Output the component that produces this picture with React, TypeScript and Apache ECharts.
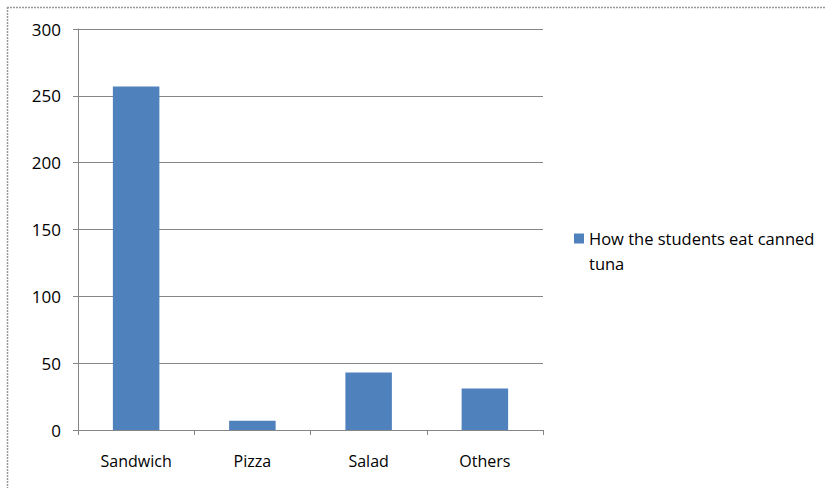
import React, { useEffect, useRef } from "react";
import * as echarts from "echarts";

const categories = ["Sandwich", "Pizza", "Salad", "Others"];
const seriesName = "How the students eat canned tuna";
const legendLines = ["How the students eat canned", "tuna"];
const values = [257, 7, 43, 31];
const yTicks = { min: 0, max: 300, interval: 50 };

const FONT = "Open Sans";

export default function App() {
  const ref = useRef<HTMLDivElement>(null);
  useEffect(() => {
    const chart = echarts.init(ref.current!, null, { renderer: "svg" });
    chart.setOption({
      animation: false,
      backgroundColor: "#ffffff",
      textStyle: { fontFamily: FONT },
      grid: { left: 78, right: 283, top: 29, bottom: 58 },
      legend: {
        orient: "vertical",
        left: 574,
        top: 201,
        padding: 0,
        itemWidth: 10,
        itemHeight: 10,
        itemGap: 5,
        icon: "rect",
        formatter: () => "\n" + legendLines.join("\n"),
        textStyle: {
          fontFamily: FONT,
          fontSize: 16.5,
          color: "#000000",
          lineHeight: 25,
        },
        data: [seriesName],
      },
      xAxis: {
        type: "category",
        data: categories,
        axisLine: { lineStyle: { color: "#868686" } },
        axisTick: { show: true, length: 5, lineStyle: { color: "#868686" } },
        axisLabel: { fontFamily: FONT, fontSize: 16, color: "#000000", margin: 23 },
      },
      yAxis: {
        type: "value",
        min: yTicks.min,
        max: yTicks.max,
        interval: yTicks.interval,
        axisLine: { show: true, lineStyle: { color: "#868686" } },
        axisTick: { show: true, length: 5, lineStyle: { color: "#868686" } },
        splitLine: { lineStyle: { color: "#868686" } },
        axisLabel: { fontFamily: FONT, fontSize: 17, color: "#000000", margin: 17 },
      },
      series: [
        {
          name: seriesName,
          type: "bar",
          data: values,
          barCategoryGap: "60%",
          itemStyle: { color: "#4F81BD" },
        },
      ],
      graphic: [
        {
          type: "line",
          shape: { x1: 7, y1: 7.5, x2: 826, y2: 7.5 },
          style: { stroke: "#999999", lineWidth: 1.5, lineDash: [2, 1] },
        },
        {
          type: "line",
          shape: { x1: 7.5, y1: 7, x2: 7.5, y2: 488 },
          style: { stroke: "#999999", lineWidth: 1.5, lineDash: [2, 1] },
        },
      ],
    });
    return () => chart.dispose();
  }, []);
  return (
    <div
      ref={ref}
      style={{ position: "absolute", left: 0, top: 0, width: 826, height: 488 }}
    />
  );
}
